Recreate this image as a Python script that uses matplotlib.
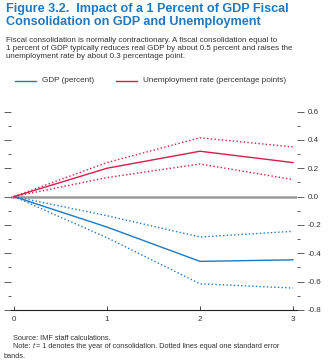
import matplotlib.pyplot as plt
from matplotlib.ticker import MultipleLocator
from matplotlib.lines import Line2D

# years after consolidation
t = [0, 1, 2, 3]

# GDP response (percent) and one standard error bands
gdp = [0.0, -0.215, -0.457, -0.446]
gdp_hi = [0.0, -0.135, -0.285, -0.245]
gdp_lo = [0.0, -0.29, -0.615, -0.645]

# unemployment response (percentage points)
unemp = [0.0, 0.20, 0.32, 0.24]
unemp_hi = [0.0, 0.24, 0.415, 0.35]
unemp_lo = [0.0, 0.134, 0.23, 0.12]

blue = '#1f78c1'
red = '#d41f4a'
font = 'Liberation Sans'

fig = plt.figure(figsize=(3.3, 3.63), dpi=100)

fig.text(6/330, 1-3/363, 'Figure 3.2.  Impact of a 1 Percent of GDP Fiscal\nConsolidation on GDP and Unemployment',
         ha='left', va='top', color=blue, fontsize=9.1, fontweight='bold', family=font, linespacing=1.1)
fig.text(6/330, 1-37/363, 'Fiscal consolidation is normally contractionary. A fiscal consolidation equal to\n'
         '1 percent of GDP typically reduces real GDP by about 0.5 percent and raises the\n'
         'unemployment rate by about 0.3 percentage point.',
         ha='left', va='top', color='#333333', fontsize=5.8, family=font, linespacing=1.15)

ax = fig.add_axes([11/330, 1-310/363, 286/330, (310-108.7)/363])
ax.plot(t, gdp, color=blue, lw=1.0)
ax.plot(t, gdp_hi, color=blue, lw=1.0, ls=':')
ax.plot(t, gdp_lo, color=blue, lw=1.0, ls=':')
ax.plot(t, unemp, color=red, lw=1.0)
ax.plot(t, unemp_hi, color=red, lw=1.0, ls=':')
ax.plot(t, unemp_lo, color=red, lw=1.0, ls=':')
ax.axhline(0, color='#999999', lw=1.8, zorder=0)

ax.set_xlim(-3/93, 3+4/93)
ax.set_ylim(-0.8, 0.62)
for s in ['top', 'left', 'right']:
    ax.spines[s].set_visible(False)
ax.spines['bottom'].set_color('#222222')
ax.spines['bottom'].set_linewidth(0.8)

ax.set_xticks(t)
ax.tick_params(axis='x', direction='in', length=3, width=0.6, color='#222222',
               labelsize=5.8, labelcolor='#333333', pad=4)
ax.yaxis.set_major_locator(MultipleLocator(0.2))
ax.yaxis.set_minor_locator(MultipleLocator(0.1))
ax.tick_params(axis='y', which='both', left=True, right=True, labelleft=False, labelright=True,
               direction='out', width=0.6, color='#444444', labelsize=5.8, labelcolor='#333333', pad=3)
ax.tick_params(axis='y', which='major', length=5)
ax.tick_params(axis='y', which='minor', length=2.5)
ax.set_yticks([-0.8, -0.6, -0.4, -0.2, 0.0, 0.2, 0.4, 0.6])
ax.set_yticklabels(['-0.8', '-0.6', '-0.4', '-0.2', '0.0', '0.2', '0.4', '0.6'])
for lab in ax.get_xticklabels() + ax.get_yticklabels():
    lab.set_family(font)

# legend row
fig.add_artist(Line2D([15/330, 36/330], [1-81/363]*2, color=blue, lw=1.0))
fig.text(42/330, 1-81/363, 'GDP (percent)', ha='left', va='center', fontsize=5.9, color='#333333', family=font)
fig.add_artist(Line2D([116/330, 137/330], [1-81/363]*2, color=red, lw=1.0))
fig.text(143/330, 1-81/363, 'Unemployment rate (percentage points)', ha='left', va='center', fontsize=5.9,
         color='#333333', family=font)

# notes
fs = 5.3
fig.text(13/330, 1-338.5/363, 'Source: IMF staff calculations.', ha='left', va='center', fontsize=fs,
         color='#333333', family=font)
n1 = fig.text(13/330, 1-347.5/363, 'Note: ', ha='left', va='baseline', fontsize=fs, color='#333333', family=font)
n2 = ax.annotate('t', xycoords=n1, xy=(1, 0), va='bottom', ha='left', fontsize=fs, color='#333333',
                 family=font, style='italic', annotation_clip=False)
ax.annotate(' = 1 denotes the year of consolidation. Dotted lines equal one standard error',
            xycoords=n2, xy=(1, 0), va='bottom', ha='left', fontsize=fs, color='#333333', family=font,
            annotation_clip=False)
fig.text(4/330, 1-356.5/363, 'bands.', ha='left', va='center', fontsize=fs, color='#333333', family=font)

fig.savefig('out.png', dpi=100)
